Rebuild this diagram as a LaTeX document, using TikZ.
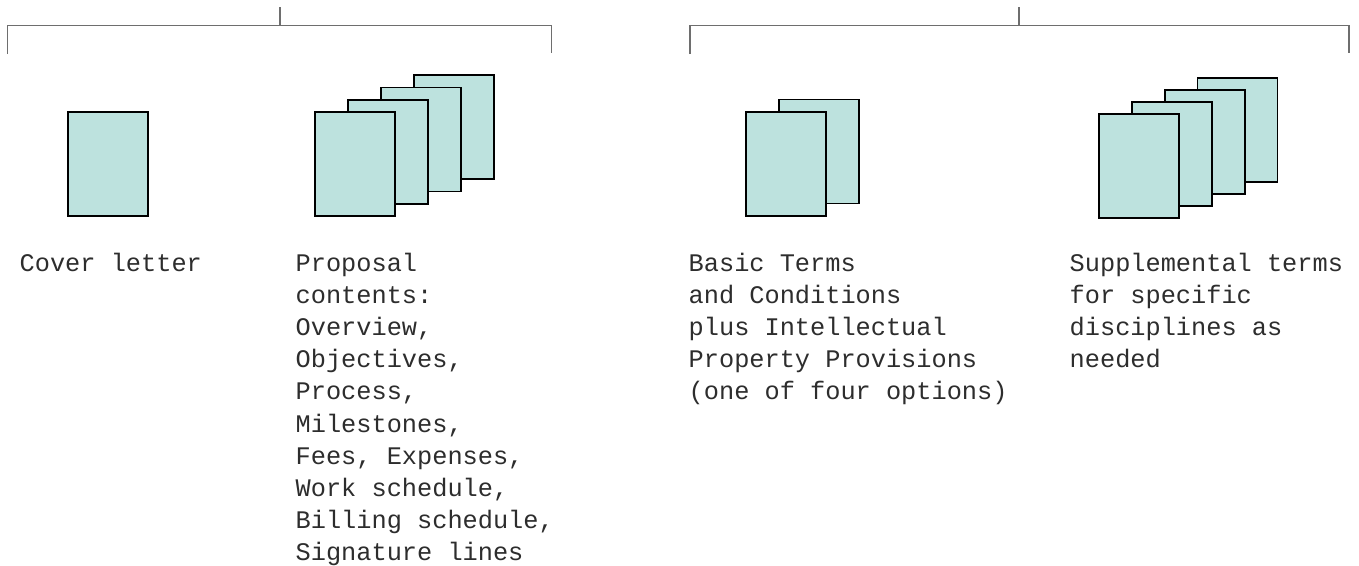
\documentclass[tikz,border=0pt]{standalone}
\usepackage{fontspec}
\setmonofont{Liberation Mono}
\definecolor{pagefill}{RGB}{189,226,222}
\definecolor{brackcol}{RGB}{110,110,110}
\definecolor{txtcol}{RGB}{45,45,45}
\begin{document}
\begin{tikzpicture}[x=1pt,y=-1pt,
  page/.style={draw=black, line width=1.9pt, fill=pagefill, minimum width=80pt, minimum height=104pt, inner sep=0pt, anchor=north west},
  lbl/.style={font=\ttfamily\fontsize{25.3}{32.2}\selectfont, text=txtcol, align=left, inner sep=0pt, anchor=base west},
  bracket/.style={draw=brackcol, line width=1.2pt}]
\useasboundingbox (0,0) rectangle (1359,565);
% brackets
\coordinate (b1l) at (7.3,54);
\coordinate (b1lt) at (7.3,25.7);
\coordinate (b1rt) at (551.5,25.7);
\coordinate (b1r) at (551.5,53);
\coordinate (b1m) at (280,25.7);
\coordinate (b1top) at (280,7.3);
\draw[bracket] (b1l) -- (b1lt) -- (b1rt) -- (b1r);
\draw[bracket] (b1m) -- (b1top);
\coordinate (b2l) at (690,54);
\coordinate (b2lt) at (690,25.7);
\coordinate (b2rt) at (1349,25.7);
\coordinate (b2r) at (1349,53);
\coordinate (b2m) at (1019,25.7);
\coordinate (b2top) at (1019,7.3);
\draw[bracket] (b2l) -- (b2lt) -- (b2rt) -- (b2r);
\draw[bracket] (b2m) -- (b2top);
% pages
\node[page] (cl) at (66.6,110.7) {};
\node[page] (p14) at (412.7,74.3) {};
\node[page] (p13) at (379.7,86.5) {};
\node[page] (p12) at (346.7,98.6) {};
\node[page] (p11) at (314,110.7) {};
\node[page] (p22) at (778,98.5) {};
\node[page] (p21) at (745,110.7) {};
\node[page] (p34) at (1196.5,76.7) {};
\node[page] (p33) at (1163.8,88.9) {};
\node[page] (p32) at (1131,101.1) {};
\node[page] (p31) at (1098,113.3) {};
% labels (base anchor = baseline of last line)
\node[lbl] (t1) at (19.5,271) {Cover letter};
\node[lbl] (t2) at (295.5,560.8) {Proposal\\contents:\\Overview,\\Objectives,\\Process,\\Milestones,\\Fees, Expenses,\\Work schedule,\\Billing schedule,\\Signature lines};
\node[lbl] (t3) at (688.5,399.8) {Basic Terms\\and Conditions\\plus Intellectual\\Property Provisions\\(one of four options)};
\node[lbl] (t4) at (1069.5,367.6) {Supplemental terms\\for specific\\disciplines as\\needed};
\end{tikzpicture}
\end{document}
